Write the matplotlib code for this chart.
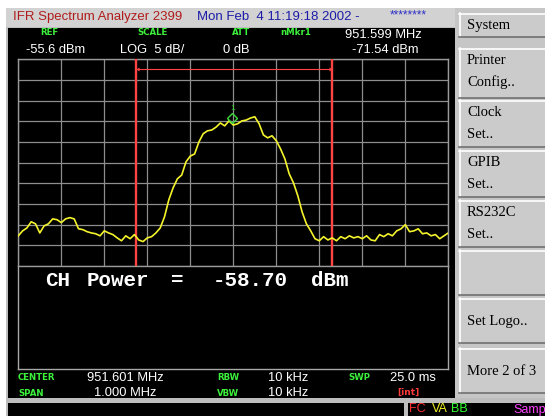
import numpy as np
import matplotlib.pyplot as plt
from matplotlib.patches import Rectangle
import matplotlib.transforms as mtransforms

plt.rcParams['font.family'] = ['Liberation Sans', 'DejaVu Sans']

# --- DATA ---
center_mhz = 951.601
span_mhz = 1.000
ref_dbm = -55.6
db_div = 5
n_div = 10

# trace, 101 points across the span (dBm)
trace_dbm = [
    -98.3, -97.1, -96.4, -94.9, -95.4, -97.6, -95.9, -95.4, -94.2, -94.4,
    -95.1, -94.2, -93.9, -94.2, -96.6, -96.8, -97.3, -97.6, -97.8, -98.3,
    -97.1, -97.6, -98.0, -98.8, -99.5, -98.3, -99.0, -98.0, -99.3, -99.7,
    -98.8, -98.5, -97.6, -96.4, -93.7, -89.6, -86.7, -84.5, -83.6, -80.4,
    -79.0, -78.5, -75.6, -73.6, -72.9, -72.7, -72.0, -71.0, -71.7, -70.5,
    -71.5, -71.2, -70.5, -70.3, -69.8, -69.5, -71.2, -73.9, -74.6, -74.1,
    -75.3, -77.3, -79.7, -83.3, -85.5, -88.6, -92.5, -95.4, -97.1, -99.0,
    -99.5, -98.5, -99.3, -98.8, -99.5, -98.5, -99.0, -98.3, -98.8, -98.5,
    -99.0, -98.3, -99.3, -99.5, -98.0, -98.5, -97.8, -98.3, -97.1, -96.6,
    -95.6, -97.3, -97.1, -96.6, -97.8, -97.6, -98.3, -98.0, -99.0, -98.3,
    -97.6,
]

mkr_mhz = 951.599
mkr_dbm = -71.54
ch_lo_mhz = 951.375
ch_hi_mhz = 951.830
ch_bar_dbm = -58.0
ch_power_dbm = -58.70

softkeys = ["System", "Printer\nConfig..", "Clock\nSet..", "GPIB\nSet..",
            "RS232C\nSet..", "", "Set Logo..", "More 2 of 3"]
softkey_rows = [(13, 37), (48, 98), (100, 147), (150, 197),
                (200, 247), (250, 295), (298, 343), (348, 393)]

# --- FIGURE / SCREEN CHROME (pixel coordinates) ---
W, H = 545, 416
fig = plt.figure(figsize=(W / 100, H / 100), dpi=100)
fig.patch.set_facecolor('white')
ui = fig.add_axes([0, 0, 1, 1])
ui.set_xlim(0, W)
ui.set_ylim(H, 0)
ui.axis('off')

gray = '#cbcbcb'
ui.add_patch(Rectangle((6, 8), 449, 19, fc='#d2d2d2', ec='none'))      # title bar
ui.add_patch(Rectangle((455, 8), 90, 394, fc='#c6c6c6', ec='none'))    # softkey panel
ui.add_patch(Rectangle((6, 27), 449, 389, fc='#bdbdbd', ec='none'))
ui.add_patch(Rectangle((404, 398), 141, 18, fc='#bdbdbd', ec='none'))
ui.add_patch(Rectangle((8, 28), 447, 370, fc='black', ec='none'))      # screen
ui.add_patch(Rectangle((8, 403), 396, 13, fc='black', ec='none'))      # bottom strip
ui.add_patch(Rectangle((408, 403), 137, 13, fc='black', ec='none'))

# softkeys
for label, (y0, y1) in zip(softkeys, softkey_rows):
    ui.add_patch(Rectangle((459, y0), 90, y1 - y0, fc=gray, ec='none'))
    ui.plot([459, 545], [y0 + 0.5, y0 + 0.5], color='white', lw=1.2)
    ui.plot([459.5, 459.5], [y0, y1], color='white', lw=1.2)
    ui.plot([459, 545], [y1 - 0.5, y1 - 0.5], color='#707070', lw=1.2)
    lines = label.split('\n')
    if len(lines) == 2:
        ys = [y0 + 12, y0 + 34]
    else:
        ys = [(y0 + y1) / 2 + 1]
    for s, yy in zip(lines, ys):
        if s:
            ui.text(467, yy, s, fontsize=10.5, family='Liberation Serif',
                    color='black', va='center', ha='left')

# title line
ui.text(13, 17, 'IFR Spectrum Analyzer 2399', color='#b01c1c', fontsize=9.5,
        va='center')
ui.text(197, 17, 'Mon Feb  4 11:19:18 2002 -', color='#1c1ca8', fontsize=9.5,
        va='center')
ui.text(390, 15, '********', color='#3030c8', fontsize=8.5, va='center')

# header
green = '#3cf03c'
for s, xc in [('REF', 49), ('SCALE', 152), ('ATT', 241), ('nMkr1', 296)]:
    ui.text(xc, 32.5, s, color=green, fontsize=6.2, fontweight='bold',
            family='DejaVu Sans', ha='center', va='center')
ui.text(26, 50, f'{ref_dbm:.1f} dBm', color='white', fontsize=9.3, va='center')
ui.text(120, 50, f'LOG  {db_div} dB/', color='white', fontsize=9.3, va='center')
ui.text(223, 50, '0 dB', color='white', fontsize=9.3, va='center')
ui.text(422, 35, f'{mkr_mhz:.3f} MHz', color='white', fontsize=9.3,
        ha='right', va='center')
ui.text(419, 50, f'{mkr_dbm:.2f} dBm', color='white', fontsize=9.3,
        ha='right', va='center')

# lower box (below graticule)
box_c = '#a8a8a8'
ui.plot([18.3, 18.3], [266, 369.3], color=box_c, lw=1)
ui.plot([448.3, 448.3], [266, 369.3], color=box_c, lw=1)
ui.plot([18.3, 448.3], [369.3, 369.3], color=box_c, lw=1)

# CH Power readout
chp = f'{ch_power_dbm:.2f}'
for s, x in [('CH', 45), ('Power', 87), ('=', 171), (chp, 213), ('dBm', 311)]:
    ui.text(x, 281, s, color='white', fontsize=15, family='Liberation Mono',
            fontweight='bold', va='center')

# footer
ui.text(18, 378, 'CENTER', color=green, fontsize=6.2, fontweight='bold',
        family='DejaVu Sans', va='center')
ui.text(18, 393, 'SPAN', color=green, fontsize=6.2, fontweight='bold',
        family='DejaVu Sans', va='center')
ui.text(87, 378, f'{center_mhz:.3f} MHz', color='white', fontsize=9.3, va='center')
ui.text(94.5, 393, f'{span_mhz:.3f} MHz', color='white', fontsize=9.3, va='center')
ui.text(217, 378, 'RBW', color=green, fontsize=6.2, fontweight='bold',
        family='DejaVu Sans', va='center')
ui.text(217, 393, 'VBW', color=green, fontsize=6.2, fontweight='bold',
        family='DejaVu Sans', va='center')
ui.text(268, 378, '10 kHz', color='white', fontsize=9.3, va='center')
ui.text(268, 393, '10 kHz', color='white', fontsize=9.3, va='center')
ui.text(348, 378, 'SWP', color=green, fontsize=6.2, fontweight='bold',
        family='DejaVu Sans', va='center')
ui.text(390, 378, '25.0 ms', color='white', fontsize=9.3, va='center')
ui.text(397, 392, '[int]', color='#ff3a3a', fontsize=6.5, fontweight='bold',
        family='DejaVu Sans', va='center')

# status line
ui.text(409, 409.5, 'FC', color='#ff3030', fontsize=9, va='center')
ui.text(432, 409.5, 'VA', color='#f0f020', fontsize=9, va='center')
ui.text(451, 409.5, 'BB', color='#30ff30', fontsize=9, va='center')
ui.text(513, 409.5, 'Samp', color='#ff40ff', fontsize=9, va='center')

# --- SPECTRUM GRATICULE ---
gx0, gx1, gy0, gy1 = 18.3, 448.3, 59.3, 266.0
ax = fig.add_axes([gx0 / W, 1 - gy1 / H, (gx1 - gx0) / W, (gy1 - gy0) / H])
ax.set_facecolor('black')
f0 = center_mhz - span_mhz / 2
f1 = center_mhz + span_mhz / 2
bottom_dbm = ref_dbm - db_div * n_div
ax.set_xlim(f0, f1)
ax.set_ylim(bottom_dbm, ref_dbm)
ax.set_xticks(np.linspace(f0, f1, n_div + 1))
ax.set_yticks(np.linspace(bottom_dbm, ref_dbm, n_div + 1))
ax.tick_params(length=0, labelbottom=False, labelleft=False)
ax.grid(True, color='#8e8e8e', lw=0.9)
for sp in ax.spines.values():
    sp.set_color('#9a9a9a')
    sp.set_linewidth(1)

freq_mhz = np.linspace(f0, f1, len(trace_dbm))
ax.plot(freq_mhz, trace_dbm, color='#f4f42c', lw=1.2, zorder=4)

# channel power limits
ax.axvline(ch_lo_mhz, color='#ff4444', lw=1.7, zorder=3)
ax.axvline(ch_hi_mhz, color='#ff4444', lw=1.7, zorder=3)
ax.plot([ch_lo_mhz, ch_hi_mhz], [ch_bar_dbm, ch_bar_dbm], color='#ff4444',
        lw=0.8, zorder=3)
ax.plot([ch_lo_mhz], [ch_bar_dbm], marker=4, ms=3, color='#ff4444',
        mec='none', zorder=3)
ax.plot([ch_hi_mhz], [ch_bar_dbm], marker=5, ms=3, color='#ff4444',
        mec='none', zorder=3)

# marker 1
up = mtransforms.offset_copy(ax.transData, fig=fig, x=0, y=7, units='dots')
ax.plot([mkr_mhz], [mkr_dbm], marker='D', ms=5.2, mfc='none', mec='#3cd83c',
        mew=1.0, transform=up, zorder=5)
up2 = mtransforms.offset_copy(ax.transData, fig=fig, x=0, y=17, units='dots')
ax.text(mkr_mhz, mkr_dbm, '1', color='#3cd83c', fontsize=6, ha='center',
        va='center', transform=up2, zorder=5)

fig.savefig('out.png', dpi=100, facecolor='white')
